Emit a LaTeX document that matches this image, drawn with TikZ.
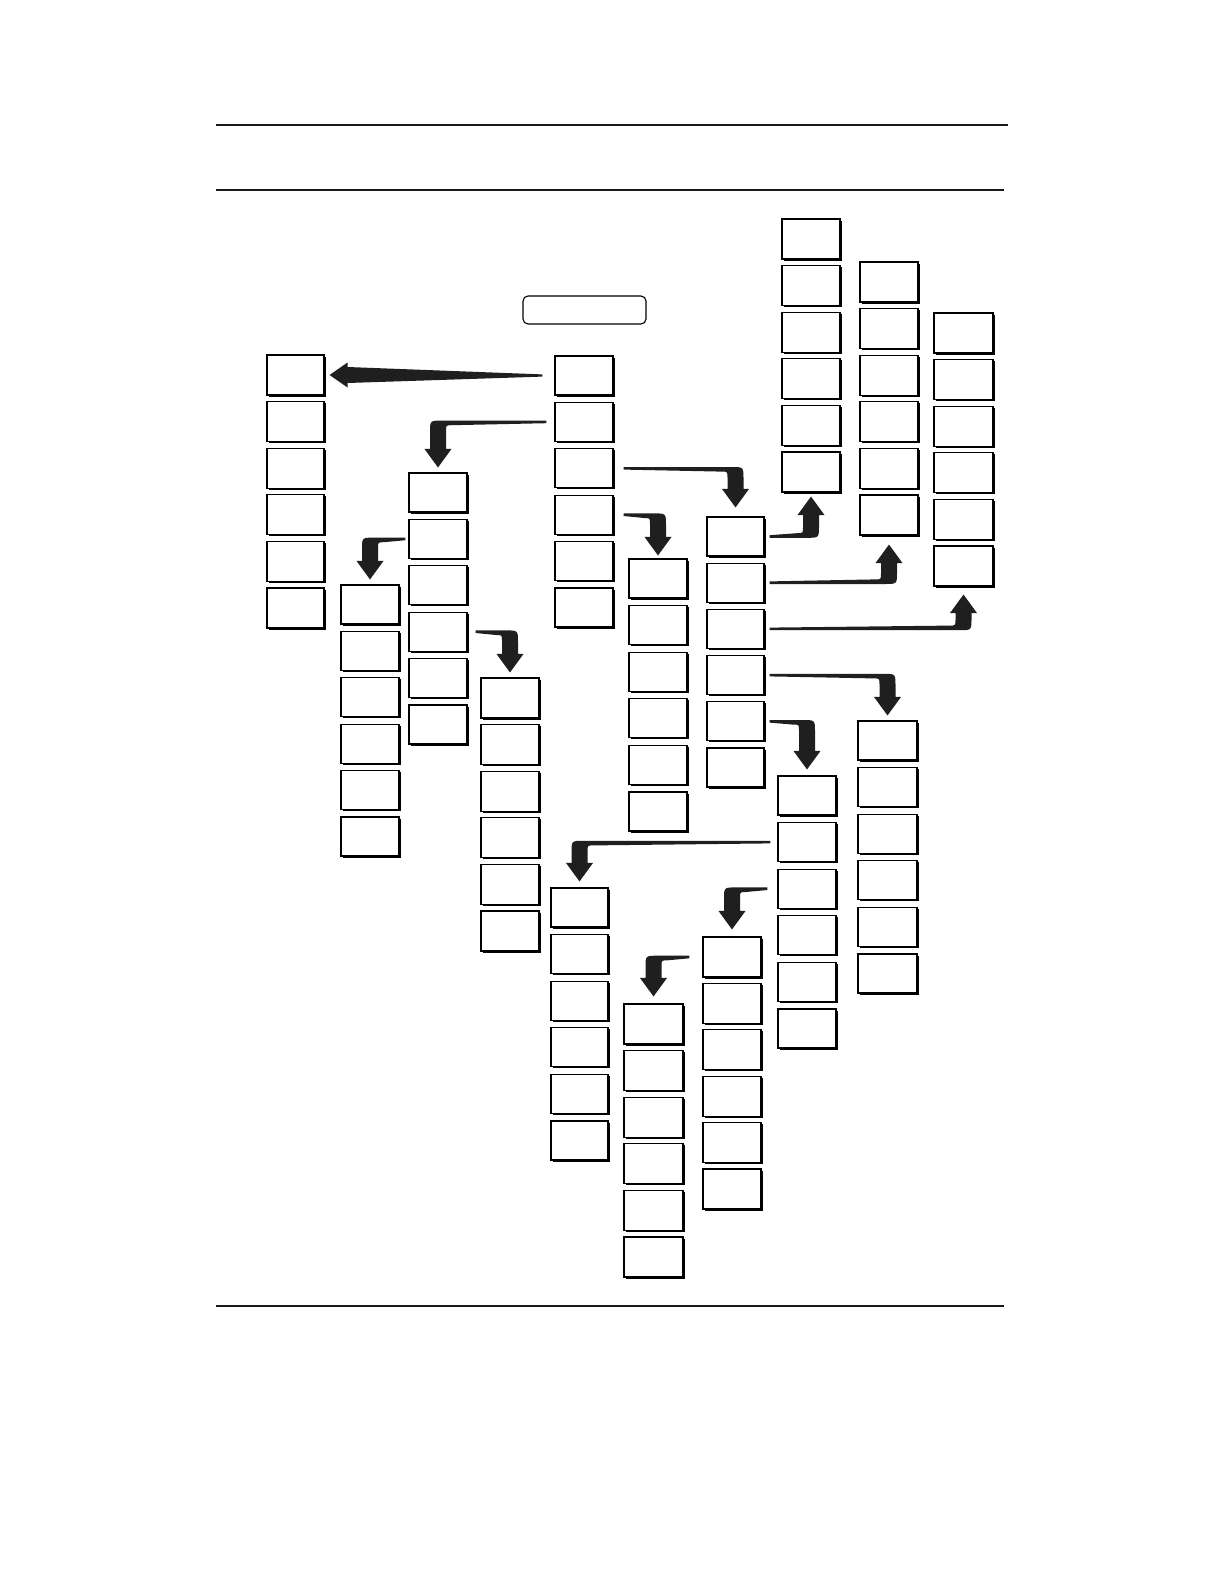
\documentclass[tikz,border=0pt]{standalone}
\usetikzlibrary{calc,shadows}
\tikzset{
  bx/.style={draw=black, line width=0.55pt, fill=white, inner sep=0pt,
    general shadow={fill=black, shadow xshift=0.8pt, shadow yshift=-0.8pt}},
  rule/.style={line width=0.75pt, draw=black!90},
  titlebox/.style={draw=black, line width=0.55pt, rounded corners=2.5pt, inner sep=0pt},
  arr/.style={fill=black!88}
}
% column of six boxes: name, xleft, xright, ytop, pitch, height (pixels, y down)
\newcommand{\boxcol}[6]{%
  \foreach \i in {1,...,6}{%
    \node[bx, minimum width={(#3-#2)*0.5pt}, minimum height={(#6)*0.5pt}]
      (#1\i) at ({(#2+#3)/2},{#4+(\i-1)*#5+(#6)/2}) {};
  }%
}
% elbow arrow: start anchor, target anchor, horizontal dir, vertical dir (+1 down), start gap, tip gap
\newcommand{\elarrow}[6]{%
  \coordinate (ea) at ($(#1)+({(#3)*(#5)},0)$);
  \coordinate (eb) at ($(#2)+(0,{(-1)*(#4)*(#6)})$);
  \coordinate (ec) at (eb |- ea);
  \fill[arr] ($(ea)+(0,{(-1)*(#4)*1.3})$)
    -- ($(ec)+({(#3)*(8-12)},{(-1)*(#4)*1.3})$)
    .. controls ($(ec)+({(#3)*8},{(-1)*(#4)*1.3})$) .. ($(ec)+({(#3)*8},{(#4)*(12-1.3)})$)
    -- ($(eb)+({(#3)*8},{(-1)*(#4)*18.5})$)
    -- ($(eb)+({(#3)*13.5},{(-1)*(#4)*18.5})$)
    -- (eb)
    -- ($(eb)+({(-1)*(#3)*13.5},{(-1)*(#4)*18.5})$)
    -- ($(eb)+({(-1)*(#3)*8},{(-1)*(#4)*18.5})$)
    -- ($(ec)+({(-1)*(#3)*8},{(#4)*(4.6-1.3+6)})$)
    .. controls ($(ec)+({(-1)*(#3)*8},{(#4)*(4.6-1.3)})$) .. ($(ec)+({(-1)*(#3)*(8+6)},{(#4)*(4.6-1.3)})$)
    -- ($(ea)+(0,{(#4)*1.3})$) -- cycle;
}
\begin{document}
\begin{tikzpicture}[x=0.5pt,y=-0.5pt]
\useasboundingbox (0,0) rectangle (1224,1584);
\fill[white] (0,0) rectangle (1224,1584);

% rules
\draw[rule] (216,125) -- (1008,125);
\draw[rule] (216,190) -- (1004,190);
\draw[rule] (216,1306) -- (1004,1306);

% title box
\node[titlebox, minimum width={123*0.5pt}, minimum height={28*0.5pt}] (title) at (584.5,310) {};

% columns
\boxcol{A}{267}{324}{355}{46.6}{40}
\boxcol{M}{555}{613}{356}{46.4}{39}
\boxcol{B}{409}{467}{473}{46.4}{39}
\boxcol{C}{341}{399}{585}{46.4}{39}
\boxcol{D}{481}{539}{678}{46.6}{40}
\boxcol{E}{629}{687}{559}{46.6}{39}
\boxcol{F}{707}{764}{517}{46.2}{39}
\boxcol{G}{782}{840}{219}{46.6}{40}
\boxcol{H}{860}{918}{262}{46.6}{40}
\boxcol{I}{934}{993}{313}{46.6}{40}
\boxcol{J}{858}{917}{721}{46.6}{39}
\boxcol{K}{778}{836}{776}{46.6}{39}
\boxcol{L}{551}{608}{888}{46.6}{39}
\boxcol{N}{703}{761}{937}{46.4}{40}
\boxcol{O}{624}{683}{1004}{46.6}{40}

% straight arrow M1 -> A1
\coordinate (sa) at ($(M1.west)+(-12,0)$);
\coordinate (sb) at ($(A1.east)+(5,0)$);
\fill[arr] ($(sa)+(0,-1.1)$) -- ($(sb)+(18,-8)$) -- ($(sb)+(18,-12.5)$) -- (sb)
  -- ($(sb)+(18,12.5)$) -- ($(sb)+(18,8)$) -- ($(sa)+(0,1.1)$) -- cycle;

% elbow arrows
\elarrow{M2.west}{B1.north}{-1}{1}{8}{5}
\elarrow{M3.east}{F1.north}{1}{1}{10}{9}
\elarrow{M4.east}{E1.north}{1}{1}{10}{3}
\elarrow{B2.west}{C1.north}{-1}{1}{3}{5}
\elarrow{B4.east}{D1.north}{1}{1}{8}{5}
\elarrow{F1.east}{G6.south}{1}{-1}{5}{4}
\elarrow{F2.east}{H6.south}{1}{-1}{5}{9}
\elarrow{F3.east}{I6.south}{1}{-1}{5}{8}
\elarrow{F4.east}{J1.north}{1}{1}{5}{5}
\elarrow{F5.east}{K1.north}{1}{1}{5}{6}
\elarrow{K2.west}{L1.north}{-1}{1}{7}{6}
\elarrow{K3.west}{N1.north}{-1}{1}{10}{7}
\elarrow{N1.west}{O1.north}{-1}{1}{13}{7}
\end{tikzpicture}
\end{document}
